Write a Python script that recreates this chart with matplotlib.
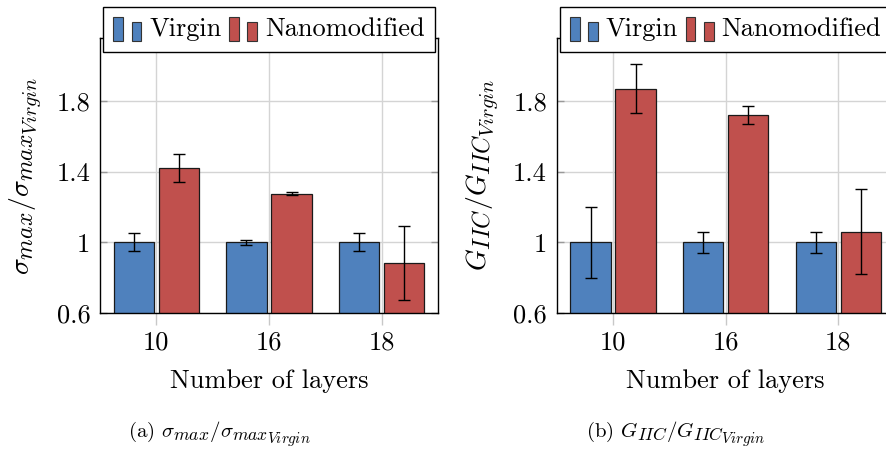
import numpy as np
import matplotlib
matplotlib.use("Agg")
import matplotlib.pyplot as plt
import matplotlib._mathtext as mathtext_internal
from matplotlib.patches import Rectangle
from matplotlib.legend_handler import HandlerBase

plt.rcParams["font.family"] = "serif"
plt.rcParams["font.serif"] = ["cmr10"]
plt.rcParams["mathtext.fontset"] = "cm"
plt.rcParams["axes.formatter.use_mathtext"] = True
# TeX subscripts (optical sizes) look larger than mathtext's default shrink
mathtext_internal.SHRINK_FACTOR = 0.85

# data
layers = ["10", "16", "18"]
sigma_virgin = [1.0, 1.0, 1.0]
sigma_virgin_err = [0.05, 0.015, 0.05]
sigma_nano = [1.42, 1.275, 0.885]
sigma_nano_err = [0.08, 0.01, 0.21]
g_virgin = [1.0, 1.0, 1.0]
g_virgin_err = [0.2, 0.06, 0.06]
g_nano = [1.87, 1.72, 1.06]
g_nano_err = [0.14, 0.05, 0.24]
yticks = [0.6, 1.0, 1.4, 1.8]
ytick_labels = ["0.6", "1", "1.4", "1.8"]

blue = "#4f81bd"
red = "#c0504d"
W, H = 887, 449
fs = 19


class TwoBarHandler(HandlerBase):
    # pgfplots style ybar legend image: two little bars
    def create_artists(self, legend, orig_handle, xdescent, ydescent,
                       width, height, fontsize, trans):
        bw = width * 0.34
        fc = orig_handle.get_facecolor()
        r1 = Rectangle((-xdescent, -ydescent - 0.25 * height), bw, 1.3 * height,
                       facecolor=fc, edgecolor="#333333", lw=0.8, transform=trans)
        r2 = Rectangle((-xdescent + width - bw, -ydescent - 0.25 * height), bw, 1.0 * height,
                       facecolor=fc, edgecolor="#333333", lw=0.8, transform=trans)
        return [r1, r2]


def draw(ax, virgin, virgin_err, nano, nano_err, ylabel):
    x = np.arange(len(layers))
    width = 0.357
    err_kw = dict(ecolor="black", elinewidth=1.0, capsize=4, capthick=1.0)
    b1 = ax.bar(x - 0.2, virgin, width, yerr=virgin_err, color=blue,
                edgecolor="#1a1a1a", linewidth=0.9, error_kw=err_kw, zorder=3,
                label="Virgin")
    b2 = ax.bar(x + 0.2, nano, width, yerr=nano_err, color=red,
                edgecolor="#1a1a1a", linewidth=0.9, error_kw=err_kw, zorder=3,
                label="Nanomodified")
    ax.set_xlim(-0.5, 2.5)
    ax.set_ylim(0.6, 2.158)
    ax.set_xticks(x, layers)
    ax.set_yticks(yticks, ytick_labels)
    ax.grid(True, color="#d4d4d4", linewidth=1.0, zorder=0)
    ax.set_axisbelow(True)
    ax.tick_params(axis="x", direction="out", length=8.5, width=1.0,
                   color="#c8c8c8", labelsize=fs, pad=4)
    ax.tick_params(axis="y", direction="in", length=5, width=1.0,
                   color="#999999", labelsize=fs, pad=7, left=True, right=True)
    for s in ax.spines.values():
        s.set_linewidth(1.0)
        s.set_zorder(4)
    ax.set_xlabel("Number of layers", fontsize=fs, labelpad=11)
    ax.set_ylabel(ylabel, fontsize=20, labelpad=8)
    leg = ax.legend(handles=[b1.patches[0], b2.patches[0]],
                    labels=["Virgin", "Nanomodified"],
                    handler_map={Rectangle: TwoBarHandler()},
                    loc="upper center", bbox_to_anchor=(0.5, 1.1115), ncol=2,
                    fontsize=fs, frameon=True, fancybox=False, framealpha=1,
                    edgecolor="black", borderaxespad=0, borderpad=0.4,
                    handlelength=1.05, handleheight=0.7, handletextpad=0.3,
                    columnspacing=0.3)
    leg.get_frame().set_linewidth(1.0)
    leg.set_zorder(10)


fig = plt.figure(figsize=(W / 100, H / 100), dpi=100)
top, bottom = 37.7, 313
ax1 = fig.add_axes([100 / W, (H - bottom) / H, 338 / W, (bottom - top) / H])
ax2 = fig.add_axes([556.7 / W, (H - bottom) / H, 338 / W, (bottom - top) / H])

draw(ax1, sigma_virgin, sigma_virgin_err, sigma_nano, sigma_nano_err,
     r"$\sigma_{max}/\sigma_{max_{Virgin}}$")
draw(ax2, g_virgin, g_virgin_err, g_nano, g_nano_err,
     r"$G_{IIC}/G_{IIC_{Virgin}}$")

fig.text(219 / W, (H - 437) / H, r"(a) $\sigma_{max}/\sigma_{max_{Virgin}}$",
         ha="center", va="baseline", fontsize=15)
fig.text(676 / W, (H - 437) / H, r"(b) $G_{IIC}/G_{IIC_{Virgin}}$",
         ha="center", va="baseline", fontsize=15)

fig.savefig("out.png", dpi=100)
